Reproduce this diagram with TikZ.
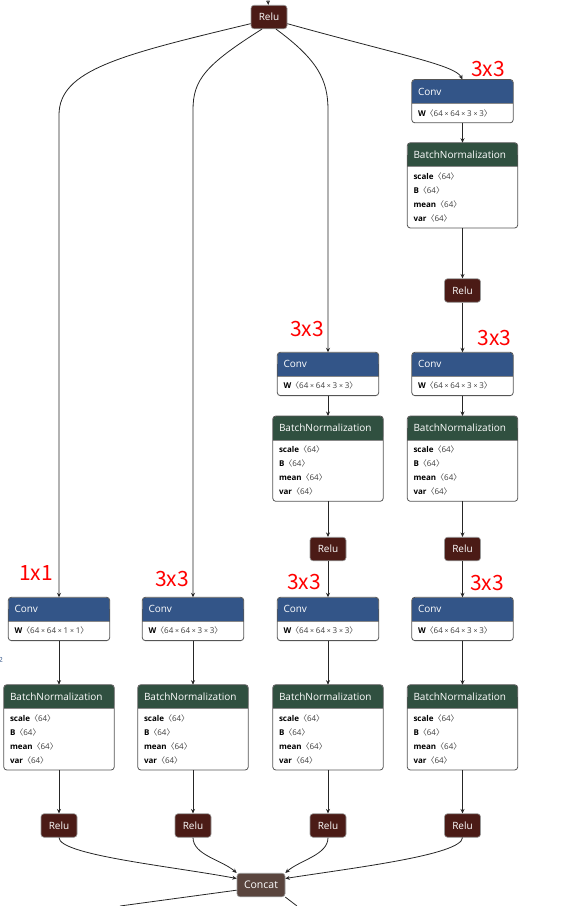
\documentclass[tikz,border=0pt]{standalone}
\usepackage{fontspec}
\setmainfont{Open Sans}
\newfontfamily\cjk{Noto Sans CJK SC}
\usetikzlibrary{arrows.meta, positioning, calc, backgrounds}
\definecolor{cConv}{RGB}{51,85,136}
\definecolor{cBN}{RGB}{48,80,64}
\definecolor{cRelu}{RGB}{75,27,22}
\definecolor{cConcat}{RGB}{90,69,62}
\definecolor{cFrame}{RGB}{85,85,85}
\definecolor{cDim}{RGB}{60,60,60}
\newcommand{\dims}[1]{{\color{cDim}{\cjk 〈}#1{\cjk 〉}}}
\newcommand{\mul}{\hspace{1.8pt}{\fontsize{7}{6}\selectfont ×}\hspace{1.8pt}}
\tikzset{
	head/.style={rectangle, rounded corners=3pt, minimum height=23.5pt, inner xsep=6pt, inner ysep=0pt, text=white, align=left, font=\fontsize{10}{12}\selectfont, anchor=north},
	convhead/.style={head, fill=cConv, text width=89pt},
	bnhead/.style={head, fill=cBN, text width=98pt},
	opbody/.style={rectangle, inner xsep=6pt, inner ysep=0pt, align=left, font=\fontsize{8}{14}\selectfont},
	frame/.style={draw=cFrame, line width=0.8pt, rounded corners=3pt},
	sepline/.style={draw=cFrame!70, line width=0.6pt},
	act/.style={rectangle, rounded corners=3pt, minimum width=36pt, minimum height=23.5pt, inner sep=0pt, text=white, font=\fontsize{10}{12}\selectfont, fill=cRelu, draw=gray!80, line width=0.6pt},
	merge/.style={act, fill=cConcat, minimum width=48pt, font=\fontsize{10.5}{12}\selectfont},
	kernel/.style={text=red, font=\cjk\fontsize{21}{21}\selectfont, inner sep=0pt},
	edge/.style={draw=black!85, line width=0.8pt, -{Stealth[length=4.5pt, width=4pt]}},
	wire/.style={draw=black!85, line width=0.8pt},
}
% op boxes: coloured head + parameter list
\newcommand{\convop}[3]{%
	\node[convhead] (#1) at #2 {Conv};
	\begin{scope}[on background layer]
		\fill[cConv] (#1.west) rectangle (#1.south east);
	\end{scope}
	\node[opbody, text width=89pt, minimum height=19pt, below=0pt of #1] (#1w) {\textbf{W}\dims{64\mul 64\mul #3\mul #3}};
	\draw[sepline] (#1.south west) -- (#1.south east);
	\draw[frame] (#1.north west) rectangle (#1w.south east);
}
\newcommand{\bnop}[2]{%
	\node[bnhead] (#1) at #2 {BatchNormalization};
	\begin{scope}[on background layer]
		\fill[cBN] (#1.west) rectangle (#1.south east);
	\end{scope}
	\node[opbody, text width=98pt, minimum height=61pt, below=0pt of #1] (#1p) {\textbf{scale}\dims{64}\\ \textbf{B}\dims{64}\\ \textbf{mean}\dims{64}\\ \textbf{var}\dims{64}};
	\draw[sepline] (#1.south west) -- (#1.south east);
	\draw[frame] (#1.north west) rectangle (#1p.south east);
}

\begin{document}
\begin{tikzpicture}[x=1pt, y=-1pt]
	\useasboundingbox (0,0) rectangle (567,906);
	\coordinate (inp) at (268,0);
	\node[act] (r0) at (269,17) {Relu};
	\draw[edge] (inp) -- (r0);

	% right branch, three convs deep
	\convop{c4a}{(462.5,79.5)}{3}
	\bnop{b4a}{(462.5,142.7)}
	\node[act] (r4a) at (462.5,290.5) {Relu};
	\convop{c3b}{(328,352.3)}{3}
	\convop{c4b}{(462.5,352.3)}{3}
	\bnop{b3b}{(328,416)}
	\bnop{b4b}{(462.5,416)}
	\node[act] (r3b) at (328,549) {Relu};
	\node[act] (r4b) at (462.5,549) {Relu};

	% last row, one per branch
	\convop{c1}{(59,597.3)}{1}
	\convop{c2}{(193,597.3)}{3}
	\convop{c3}{(328,597.3)}{3}
	\convop{c4}{(462.5,597.3)}{3}
	\bnop{b1}{(59,684.7)}
	\bnop{b2}{(193,684.7)}
	\bnop{b3}{(328,684.7)}
	\bnop{b4}{(462.5,684.7)}
	\node[act] (r1) at (59,825.5) {Relu};
	\node[act] (r2) at (193,825.5) {Relu};
	\node[act] (r3) at (328,825.5) {Relu};
	\node[act] (r4) at (462.5,825.5) {Relu};
	\node[merge] (cc) at (261,885) {Concat};

	% kernel sizes
	\node[kernel] (k4a) at (488,69) {3x3};
	\node[kernel] (k3b) at (307,329) {3x3};
	\node[kernel] (k4b) at (494.5,338) {3x3};
	\node[kernel] (k1) at (36,573) {1x1};
	\node[kernel] (k2) at (172,579) {3x3};
	\node[kernel] (k3) at (304,582.5) {3x3};
	\node[kernel] (k4) at (487,583) {3x3};
	\node[font=\fontsize{7}{7}\selectfont, text=cConv, inner sep=0pt] (pg) at (1,660) {2};

	% fan out from the top Relu
	\draw[edge] (r0.200) .. controls (120,55) and (59,70) .. (59,115) -- (c1);
	\draw[edge] (r0.240) .. controls (205,65) and (193,80) .. (193,110) -- (c2);
	\draw[edge] (r0.300) .. controls (318,60) and (328,80) .. (328,110) -- (c3b);
	\draw[edge] (r0.340) .. controls (400,55) and (455,65) .. (c4a.north);

	\draw[edge] (c4aw) -- (b4a);
	\draw[edge] (b4ap) -- (r4a);
	\draw[edge] (r4a) -- (c4b);
	\draw[edge] (c3bw) -- (b3b);
	\draw[edge] (c4bw) -- (b4b);
	\draw[edge] (b3bp) -- (r3b);
	\draw[edge] (b4bp) -- (r4b);
	\draw[edge] (r3b) -- (c3);
	\draw[edge] (r4b) -- (c4);
	\foreach \i in {1,2,3,4} {
		\draw[edge] (c\i w) -- (b\i);
		\draw[edge] (b\i p) -- (r\i);
	}

	% into Concat
	\draw[edge] (r1.south) .. controls (59,855) and (170,866) .. (cc.165);
	\draw[edge] (r2.south) .. controls (193,855) and (222,860) .. (cc.north west);
	\draw[edge] (r3.south) .. controls (328,855) and (300,860) .. (cc.north east);
	\draw[edge] (r4.south) .. controls (462,855) and (352,868) .. (cc.15);
	\coordinate (outL) at (120,906);
	\coordinate (outR) at (297,906);
	\draw[wire] (cc.192) -- (outL);
	\draw[wire] (cc.south east) -- (outR);
\end{tikzpicture}
\end{document}
